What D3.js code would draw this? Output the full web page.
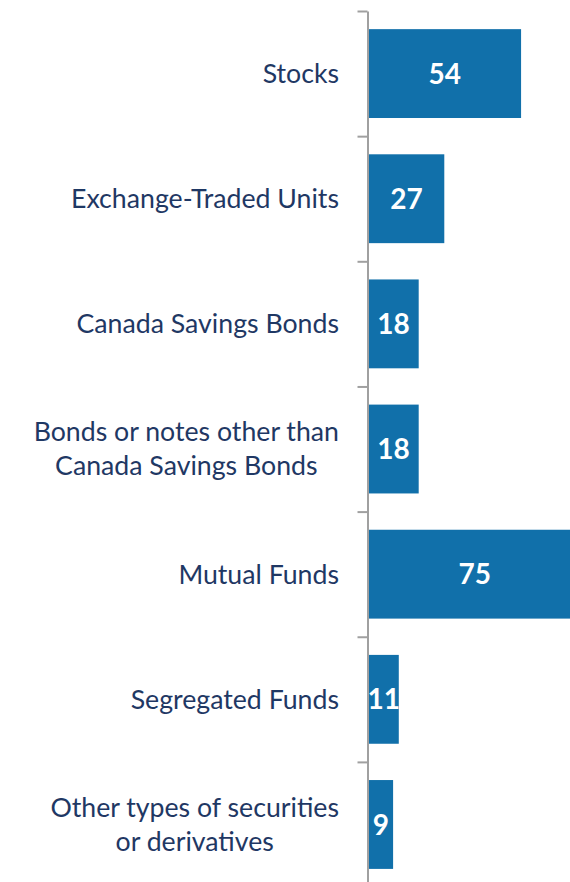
<!DOCTYPE html>
<html>
<head>
<meta charset="utf-8">
<script src="https://cdn.jsdelivr.net/npm/d3@7"></script>
<style>
  body { margin: 0; background: #fff; }
  svg { display: block; }
</style>
</head>
<body>
<div id="chart"></div>
<script>
// categories (top to bottom), each label split into lines
const categories = ["Stocks", "Exchange-Traded Units", "Canada Savings Bonds",
  "Bonds or notes other than Canada Savings Bonds", "Mutual Funds",
  "Segregated Funds", "Other types of securities or derivatives"];
const labelLines = [
  ["Stocks"],
  ["Exchange-Traded Units"],
  ["Canada Savings Bonds"],
  ["Bonds or notes other than", "Canada Savings Bonds"],
  ["Mutual Funds"],
  ["Segregated Funds"],
  ["Other types of securities", "or derivatives"]
];
const values = [54, 27, 18, 18, 75, 11, 9];

const width = 570, height = 882;
const axisX = 367.5;
const plotTop = 11, step = 125.15;
const labelRight = 339;

const svg = d3.select("#chart").append("svg")
  .attr("width", width).attr("height", height);

const x = d3.scaleLinear().domain([0, 75]).range([axisX, axisX + 213.3]);
const y = d3.scaleBand().domain(categories)
  .range([plotTop, plotTop + step * categories.length])
  .paddingInner(0.29).paddingOuter(0.145);

// bars
svg.append("g").selectAll("rect").data(categories).enter()
  .append("rect")
  .attr("x", x(0))
  .attr("y", d => y(d))
  .attr("width", (d, i) => x(values[i]) - x(0))
  .attr("height", y.bandwidth())
  .attr("fill", "#1170aa");

// value labels
svg.append("g").selectAll("text").data(categories).enter()
  .append("text")
  .attr("x", (d, i) => (x(0) + x(values[i])) / 2 + 0.5)
  .attr("y", d => y(d) + y.bandwidth() / 2)
  .attr("dy", "0.36em")
  .attr("text-anchor", "middle")
  .attr("fill", "#fff")
  .style("font-family", "Lato, 'Open Sans', sans-serif")
  .style("font-weight", "bold")
  .style("font-size", "28px")
  .text((d, i) => values[i]);

// axis with ticks at category boundaries
const edges = d3.scaleLinear().domain([0, categories.length])
  .range([plotTop, plotTop + step * categories.length]);
const axis = svg.append("g")
  .attr("transform", `translate(${axisX},0)`)
  .call(d3.axisLeft(edges).tickValues(d3.range(categories.length + 1))
    .tickFormat("").tickSize(10).tickSizeOuter(0));
axis.select(".domain").attr("stroke", "#a0a0a0").attr("stroke-width", 2);
axis.selectAll(".tick line").attr("stroke", "#a0a0a0").attr("stroke-width", 2);

// category labels: block right-aligned, lines centred within the block
const lab = svg.append("g").selectAll("text").data(categories).enter()
  .append("text")
  .attr("text-anchor", "middle")
  .attr("fill", "#1f3864")
  .style("font-family", "Lato, 'Open Sans', sans-serif")
  .style("font-size", "26.7px");
lab.each(function (d, i) {
  const lines = labelLines[i];
  const cy = y(d) + y.bandwidth() / 2;
  const lh = 34;
  const spans = d3.select(this).selectAll("tspan").data(lines).enter()
    .append("tspan")
    .attr("y", (l, j) => cy + (j - (lines.length - 1) / 2) * lh)
    .attr("dy", "0.35em")
    .text(l => l);
  const maxW = d3.max(spans.nodes(), n => n.getComputedTextLength());
  spans.attr("x", labelRight - maxW / 2);
});
</script>
</body>
</html>
